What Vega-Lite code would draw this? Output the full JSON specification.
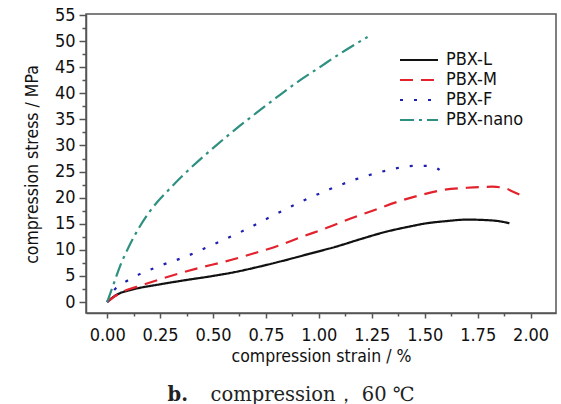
{
  "$schema": "https://vega.github.io/schema/vega-lite/v6.json",
  "width": 470,
  "height": 299,
  "autosize": {"type": "none"},
  "padding": {"left": 86, "top": 14, "right": 5, "bottom": 91},
  "background": "white",
  "config": {
    "view": {"stroke": "#555555", "strokeWidth": 1.5},
    "font": "DejaVu Sans Condensed",
    "axis": {"grid": false, "domainColor": "#555555", "domainWidth": 1.5, "tickColor": "#555555", "tickWidth": 1.5, "labelColor": "#111111", "titleColor": "#111111", "labelFont": "DejaVu Sans Condensed", "titleFont": "DejaVu Sans Condensed", "labelFontSize": 18, "titleFontSize": 17.5, "titleFontWeight": "normal"}
  },
  "data": {
    "values": [
      {"s": "PBX-L", "x": 0, "y": 0},
      {"s": "PBX-L", "x": 0.03, "y": 1.0},
      {"s": "PBX-L", "x": 0.06, "y": 1.7},
      {"s": "PBX-L", "x": 0.1, "y": 2.2},
      {"s": "PBX-L", "x": 0.14, "y": 2.6},
      {"s": "PBX-L", "x": 0.25, "y": 3.4},
      {"s": "PBX-L", "x": 0.37, "y": 4.2},
      {"s": "PBX-L", "x": 0.5, "y": 5.0},
      {"s": "PBX-L", "x": 0.61, "y": 5.8},
      {"s": "PBX-L", "x": 0.72, "y": 6.8},
      {"s": "PBX-L", "x": 0.84, "y": 8.0},
      {"s": "PBX-L", "x": 0.96, "y": 9.3},
      {"s": "PBX-L", "x": 1.08, "y": 10.6},
      {"s": "PBX-L", "x": 1.2, "y": 12.1},
      {"s": "PBX-L", "x": 1.32, "y": 13.5},
      {"s": "PBX-L", "x": 1.42, "y": 14.4},
      {"s": "PBX-L", "x": 1.51, "y": 15.1},
      {"s": "PBX-L", "x": 1.6, "y": 15.5},
      {"s": "PBX-L", "x": 1.7, "y": 15.8},
      {"s": "PBX-L", "x": 1.79, "y": 15.7},
      {"s": "PBX-L", "x": 1.85, "y": 15.5},
      {"s": "PBX-L", "x": 1.9, "y": 15.1},
      {"s": "PBX-M", "x": 0, "y": 0},
      {"s": "PBX-M", "x": 0.04, "y": 1.2},
      {"s": "PBX-M", "x": 0.08, "y": 2.1},
      {"s": "PBX-M", "x": 0.14, "y": 2.9},
      {"s": "PBX-M", "x": 0.26, "y": 4.5},
      {"s": "PBX-M", "x": 0.43, "y": 6.5},
      {"s": "PBX-M", "x": 0.56, "y": 7.8},
      {"s": "PBX-M", "x": 0.69, "y": 9.3},
      {"s": "PBX-M", "x": 0.81, "y": 10.8},
      {"s": "PBX-M", "x": 0.92, "y": 12.5},
      {"s": "PBX-M", "x": 1.03, "y": 14.1},
      {"s": "PBX-M", "x": 1.15, "y": 16.0},
      {"s": "PBX-M", "x": 1.26, "y": 17.6},
      {"s": "PBX-M", "x": 1.37, "y": 19.2},
      {"s": "PBX-M", "x": 1.48, "y": 20.5},
      {"s": "PBX-M", "x": 1.59, "y": 21.5},
      {"s": "PBX-M", "x": 1.7, "y": 21.9},
      {"s": "PBX-M", "x": 1.82, "y": 22.1},
      {"s": "PBX-M", "x": 1.88, "y": 21.8},
      {"s": "PBX-M", "x": 1.92, "y": 21.1},
      {"s": "PBX-M", "x": 1.97, "y": 20.2},
      {"s": "PBX-F", "x": 0, "y": 0},
      {"s": "PBX-F", "x": 0.02, "y": 1.6},
      {"s": "PBX-F", "x": 0.04, "y": 2.6},
      {"s": "PBX-F", "x": 0.1, "y": 4.2},
      {"s": "PBX-F", "x": 0.24, "y": 6.8},
      {"s": "PBX-F", "x": 0.37, "y": 8.7},
      {"s": "PBX-F", "x": 0.51, "y": 11.2},
      {"s": "PBX-F", "x": 0.65, "y": 13.8},
      {"s": "PBX-F", "x": 0.78, "y": 16.5},
      {"s": "PBX-F", "x": 0.91, "y": 19.1},
      {"s": "PBX-F", "x": 1.05, "y": 21.6},
      {"s": "PBX-F", "x": 1.18, "y": 23.6},
      {"s": "PBX-F", "x": 1.32, "y": 25.2},
      {"s": "PBX-F", "x": 1.45, "y": 26.1},
      {"s": "PBX-F", "x": 1.52, "y": 26.1},
      {"s": "PBX-F", "x": 1.56, "y": 25.6},
      {"s": "PBX-F", "x": 1.59, "y": 24.6},
      {"s": "PBX-nano", "x": 0, "y": 0},
      {"s": "PBX-nano", "x": 0.03, "y": 3.4},
      {"s": "PBX-nano", "x": 0.06, "y": 6.8},
      {"s": "PBX-nano", "x": 0.1, "y": 10.4},
      {"s": "PBX-nano", "x": 0.15, "y": 14.2},
      {"s": "PBX-nano", "x": 0.2, "y": 17.3},
      {"s": "PBX-nano", "x": 0.3, "y": 21.9},
      {"s": "PBX-nano", "x": 0.4, "y": 25.9},
      {"s": "PBX-nano", "x": 0.5, "y": 29.5},
      {"s": "PBX-nano", "x": 0.6, "y": 32.9},
      {"s": "PBX-nano", "x": 0.7, "y": 36.1},
      {"s": "PBX-nano", "x": 0.8, "y": 39.2},
      {"s": "PBX-nano", "x": 0.9, "y": 42.2},
      {"s": "PBX-nano", "x": 1.0, "y": 44.9},
      {"s": "PBX-nano", "x": 1.1, "y": 47.6},
      {"s": "PBX-nano", "x": 1.23, "y": 50.8}
    ]
  },
  "layer": [
    {
      "mark": {"type": "line", "strokeWidth": 2.2, "interpolate": "monotone"},
      "encoding": {
        "x": {
          "field": "x", "type": "quantitative",
          "scale": {"domain": [-0.1, 2.12], "nice": false, "zero": false},
          "axis": {
            "orient": "bottom",
            "title": "compression strain / %",
            "values": [0, 0.125, 0.25, 0.375, 0.5, 0.625, 0.75, 0.875, 1, 1.125, 1.25, 1.375, 1.5, 1.625, 1.75, 1.875, 2],
            "labelExpr": "abs(datum.value * 4 - round(datum.value * 4)) < 0.001 ? format(datum.value, '.2f') : ''",
            "tickSize": {"condition": {"test": "abs(datum.value * 4 - round(datum.value * 4)) < 0.001", "value": 5}, "value": 3},
            "labelPadding": 8,
            "labelFlush": false,
            "labelOverlap": false,
            "titleY": 43,
            "titleBaseline": "middle"
          }
        },
        "y": {
          "field": "y", "type": "quantitative",
          "scale": {"domain": [-2.1, 55.2], "nice": false, "zero": false},
          "axis": {
            "title": "compression stress / MPa",
            "values": [0, 2.5, 5, 7.5, 10, 12.5, 15, 17.5, 20, 22.5, 25, 27.5, 30, 32.5, 35, 37.5, 40, 42.5, 45, 47.5, 50, 52.5, 55],
            "labelExpr": "datum.value % 5 === 0 ? datum.label : ''",
            "tickSize": {"condition": {"test": "datum.value % 5 === 0", "value": 7}, "value": 4},
            "labelPadding": 4,
            "labelFlush": false,
            "labelOverlap": false,
            "titleX": -49,
            "titleY": 150,
            "titleAngle": -90,
            "titleAlign": "center",
            "titleBaseline": "alphabetic"
          }
        },
        "color": {
          "field": "s", "type": "nominal",
          "scale": {"domain": ["PBX-L", "PBX-M", "PBX-F", "PBX-nano"], "range": ["#111111", "#e2222c", "#2020b0", "#2e9080"]},
          "legend": {
            "title": null,
            "orient": "none",
            "legendX": 322,
            "legendY": 35,
            "symbolType": "M-2,0H2",
            "symbolSize": 361,
            "symbolStrokeWidth": 2.2,
            "symbolFillColor": "transparent",
            "labelFont": "DejaVu Sans Condensed",
            "labelFontSize": 18,
            "labelFontWeight": "normal",
            "labelColor": "#111111",
            "labelOffset": 16,
            "rowPadding": 0,
            "padding": 0
          }
        },
        "strokeDash": {
          "field": "s", "type": "nominal",
          "scale": {"domain": ["PBX-L", "PBX-M", "PBX-F", "PBX-nano"], "range": [[1, 0], [13, 8], [3, 11], [14, 5, 3, 5]]},
          "legend": null
        }
      }
    },
    {
      "mark": {"type": "point", "opacity": 0},
      "encoding": {
        "x": {
          "field": "x", "type": "quantitative",
          "axis": {
            "orient": "bottom",
            "title": "compression，\u00a060 ℃",
            "labels": false, "ticks": false, "domain": false,
            "titleFont": "DejaVu Serif",
            "titleFontSize": 19.5,
            "titleFontWeight": "normal",
            "titleColor": "#222222",
            "titleAlign": "left",
            "titleBaseline": "alphabetic",
            "titleX": 124,
            "titleY": 87
          }
        }
      }
    },
    {
      "mark": {"type": "point", "opacity": 0},
      "encoding": {
        "x": {
          "field": "x", "type": "quantitative",
          "axis": {
            "orient": "bottom",
            "title": "b.",
            "labels": false, "ticks": false, "domain": false,
            "titleFont": "DejaVu Serif",
            "titleFontSize": 19.5,
            "titleFontWeight": "bold",
            "titleColor": "#222222",
            "titleAlign": "left",
            "titleBaseline": "alphabetic",
            "titleX": 81,
            "titleY": 87
          }
        }
      }
    }
  ],
  "resolve": {"axis": {"x": "independent"}}
}
